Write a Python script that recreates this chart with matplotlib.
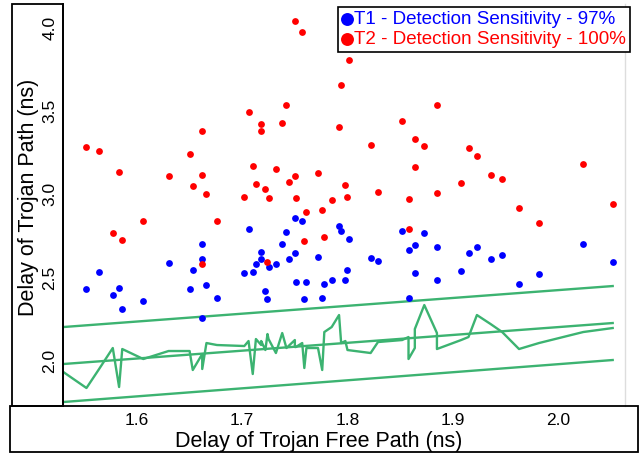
import matplotlib
matplotlib.use("Agg")
import matplotlib.pyplot as plt
from matplotlib.patches import Rectangle

plt.rcParams['font.family'] = ['Liberation Sans', 'DejaVu Sans']

# delay of trojan free path (ns), one entry per circuit
free_delay = [1.552, 1.564, 1.577, 1.583, 1.586, 1.606, 1.630, 1.650, 1.653, 1.662,
              1.662, 1.662, 1.666, 1.676, 1.702, 1.706, 1.710, 1.713, 1.718, 1.718,
              1.722, 1.724, 1.725, 1.732, 1.738, 1.742, 1.744, 1.750, 1.750, 1.751,
              1.757, 1.759, 1.761, 1.772, 1.776, 1.778, 1.785, 1.792, 1.794, 1.798,
              1.800, 1.801, 1.822, 1.829, 1.852, 1.858, 1.858, 1.864, 1.864, 1.873,
              1.885, 1.885, 1.908, 1.915, 1.923, 1.936, 1.947, 1.963, 1.982, 2.024,
              2.052]
# delay with trojan T1
t1_delay = [2.431, 2.533, 2.395, 2.437, 2.311, 2.359, 2.587, 2.431, 2.545, 2.701,
            2.611, 2.257, 2.455, 2.377, 2.527, 2.791, 2.533, 2.581, 2.653, 2.611,
            2.419, 2.371, 2.563, 2.581, 2.701, 2.773, 2.611, 2.857, 2.647, 2.473,
            2.839, 2.371, 2.473, 2.623, 2.377, 2.461, 2.485, 2.809, 2.779, 2.485,
            2.545, 2.731, 2.617, 2.599, 2.779, 2.665, 2.377, 2.695, 2.527, 2.767,
            2.683, 2.485, 2.539, 2.647, 2.683, 2.611, 2.635, 2.461, 2.521, 2.701,
            2.593]
# delay with trojan T2
t2_delay = [3.283, 3.259, 2.767, 3.133, 2.725, 2.839, 3.109, 3.241, 3.049, 3.379,
            3.115, 2.581, 3.001, 2.839, 2.983, 3.493, 3.169, 3.061, 3.421, 3.379,
            3.031, 2.593, 2.977, 3.151, 3.427, 3.535, 3.073, 4.040, 3.109, 2.977,
            3.974, 2.719, 2.893, 3.127, 2.905, 2.743, 2.965, 3.403, 3.655, 3.055,
            2.983, 3.806, 3.295, 3.013, 3.439, 2.971, 2.791, 3.331, 3.163, 3.289,
            3.535, 3.007, 3.067, 3.277, 3.229, 3.115, 3.091, 2.917, 2.827, 3.181,
            2.941]

# golden (trojan free) measured curve
golden_x = [1.530, 1.552, 1.564, 1.577, 1.583, 1.586, 1.606, 1.630, 1.650, 1.653,
            1.662, 1.662, 1.666, 1.676, 1.702, 1.706, 1.710, 1.713, 1.718, 1.718,
            1.722, 1.724, 1.725, 1.732, 1.738, 1.742, 1.744, 1.750, 1.750, 1.751,
            1.757, 1.759, 1.761, 1.772, 1.776, 1.778, 1.785, 1.792, 1.794, 1.798,
            1.800, 1.822, 1.829, 1.852, 1.858, 1.858, 1.864, 1.864, 1.873, 1.885,
            1.885, 1.908, 1.915, 1.923, 1.936, 1.947, 1.963, 1.982, 2.024, 2.052]
golden_y = [1.933, 1.837, 1.951, 2.077, 1.843, 2.071, 2.011, 2.059, 2.059, 1.945,
            2.041, 1.951, 2.107, 2.095, 2.089, 2.119, 1.921, 2.131, 2.095, 2.119,
            2.065, 2.161, 2.131, 2.047, 2.167, 2.077, 2.089, 2.125, 2.083, 2.083,
            2.107, 1.957, 2.077, 2.077, 1.945, 2.173, 2.203, 2.275, 2.107, 2.119,
            2.065, 2.047, 2.113, 2.125, 2.143, 2.011, 2.077, 2.191, 2.335, 2.167,
            2.071, 2.125, 2.143, 2.275, 2.221, 2.173, 2.071, 2.107, 2.173, 2.197]

# fitted line and threshold band
band_x = [1.530, 2.052]
band_low = [1.753, 2.005]
band_mid = [1.981, 2.227]
band_high = [2.203, 2.449]

green = '#3CB371'

fig = plt.figure(figsize=(6.4, 4.54), dpi=100)
ax = fig.add_axes([63/640, 48/454, 562/640, 402/454])

ax.plot(band_x, band_low, color=green, lw=1.7)
ax.plot(band_x, band_mid, color=green, lw=1.7)
ax.plot(band_x, band_high, color=green, lw=1.7)
ax.plot(golden_x, golden_y, color=green, lw=1.7)

ax.scatter(free_delay, t1_delay, s=24, color='#0000FF', linewidths=0, zorder=3,
           label='T1 - Detection Sensitivity - 97%')
ax.scatter(free_delay, t2_delay, s=24, color='#FF0000', linewidths=0, zorder=3,
           label='T2 - Detection Sensitivity - 100%')

ax.set_xlim(1.5297, 2.0637)
ax.set_ylim(1.729, 4.142)
ax.set_xticks([1.6, 1.7, 1.8, 1.9, 2.0])
ax.set_yticks([2.0, 2.5, 3.0, 3.5, 4.0])
ax.tick_params(axis='both', length=0, labelsize=12.5)
ax.tick_params(axis='x', pad=5)
ax.tick_params(axis='y', pad=4)
for lab in ax.get_yticklabels():
    lab.set_rotation(90)
    lab.set_va('center')

ax.spines['top'].set_visible(False)
ax.spines['bottom'].set_visible(False)
ax.spines['left'].set_color('black')
ax.spines['left'].set_linewidth(1.3)
ax.spines['right'].set_color('#dddddd')
ax.spines['right'].set_linewidth(1.0)

ax.set_xlabel('Delay of Trojan Free Path (ns)', fontsize=15.5)
ax.set_ylabel('Delay of Trojan Path (ns)', fontsize=15.5)
ax.xaxis.set_label_coords(0.455, -0.063)
ax.yaxis.set_label_coords(-0.043, 0.52)

# boxes around the axis label areas
fig.add_artist(Rectangle((12/640, 48/454), 51/640, 402/454, transform=fig.transFigure,
                         fill=False, edgecolor='black', lw=1.3))
fig.add_artist(Rectangle((10/640, 2/454), 628/640, 46/454, transform=fig.transFigure,
                         fill=False, edgecolor='black', lw=1.3))

leg = fig.legend(loc='upper right', bbox_to_anchor=(630/640, 1 - 7/454),
                 fontsize=13.5, markerscale=1.9, handlelength=0.6, handletextpad=0.1,
                 borderpad=0.2, labelspacing=0.15, borderaxespad=0, fancybox=False,
                 labelcolor='markerfacecolor', framealpha=1)
leg.get_frame().set_edgecolor('black')
leg.get_frame().set_linewidth(1.2)

fig.savefig('out.png', dpi=100)
